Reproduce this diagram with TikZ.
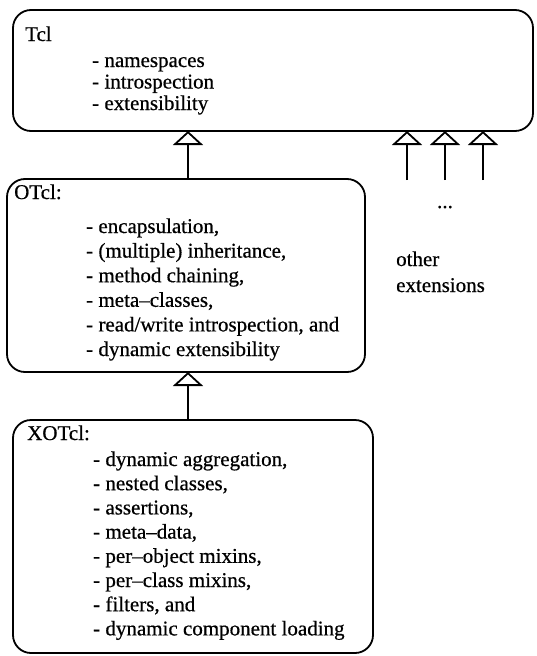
\documentclass[tikz,border=0pt]{standalone}
\usepackage{fontspec}
\setmainfont{Liberation Serif}[FakeBold=0.6]
\usetikzlibrary{arrows.meta}
\begin{document}
\begin{tikzpicture}[x=1pt,y=-1pt,
  box/.style={draw, line width=1.8pt, rounded corners=18pt, inner sep=0pt, outer sep=0pt},
  txt/.style={anchor=base west, inner sep=0pt, font=\fontsize{21}{24}\selectfont},
  inh/.style={line width=1.8pt, -{Triangle[open, width=30pt, length=14pt, line width=1.8pt]}}
]
\useasboundingbox (0,0) rectangle (537,656);

% boxes
\node[box, minimum width=520pt, minimum height=121pt] (tcl) at (273,70.5) {};
\node[box, minimum width=358pt, minimum height=193pt] (otcl) at (186,275.5) {};
\node[box, minimum width=360pt, minimum height=233pt] (xotcl) at (193,536.5) {};

% Tcl texts
\node[txt] (tclh) at (25,41) {Tcl};
\foreach \t [count=\i] in {{namespaces}, {introspection}, {extensibility}}
  \node[txt] (tcl\i) at (92,{67+21.5*(\i-1)}) {- \t};

% OTcl texts
\node[txt] (otclh) at (14,199) {OTcl:};
\foreach \t [count=\i] in {{encapsulation,}, {(multiple) inheritance,}, {method chaining,}, {meta–classes,}, {read/write introspection, and}, {dynamic extensibility}}
  \node[txt] (otcl\i) at (86,{233+24.6*(\i-1)}) {- \t};

% XOTcl texts
\node[txt] (xotclh) at (27,440) {XOTcl:};
\foreach \t [count=\i] in {{dynamic aggregation,}, {nested classes,}, {assertions,}, {meta–data,}, {per–object mixins,}, {per–class mixins,}, {filters, and}, {dynamic component loading}}
  \node[txt] (xotcl\i) at (93,{466+24.2*(\i-1)}) {- \t};

% other extensions
\node[txt, anchor=base] (dots) at (445,208) {...};
\node[txt] (oth1) at (396,266) {other};
\node[txt] (oth2) at (396,292) {extensions};

% inheritance connectors
\coordinate (cx) at (188,0);
\draw[inh] (otcl.north -| cx) -- (tcl.south -| cx);
\draw[inh] (xotcl.north -| cx) -- (otcl.south -| cx);
\coordinate (e1) at (407,180);
\coordinate (e2) at (445,180);
\coordinate (e3) at (483,180);
\draw[inh] (e1) -- (e1 |- tcl.south);
\draw[inh] (e2) -- (e2 |- tcl.south);
\draw[inh] (e3) -- (e3 |- tcl.south);
\end{tikzpicture}
\end{document}
